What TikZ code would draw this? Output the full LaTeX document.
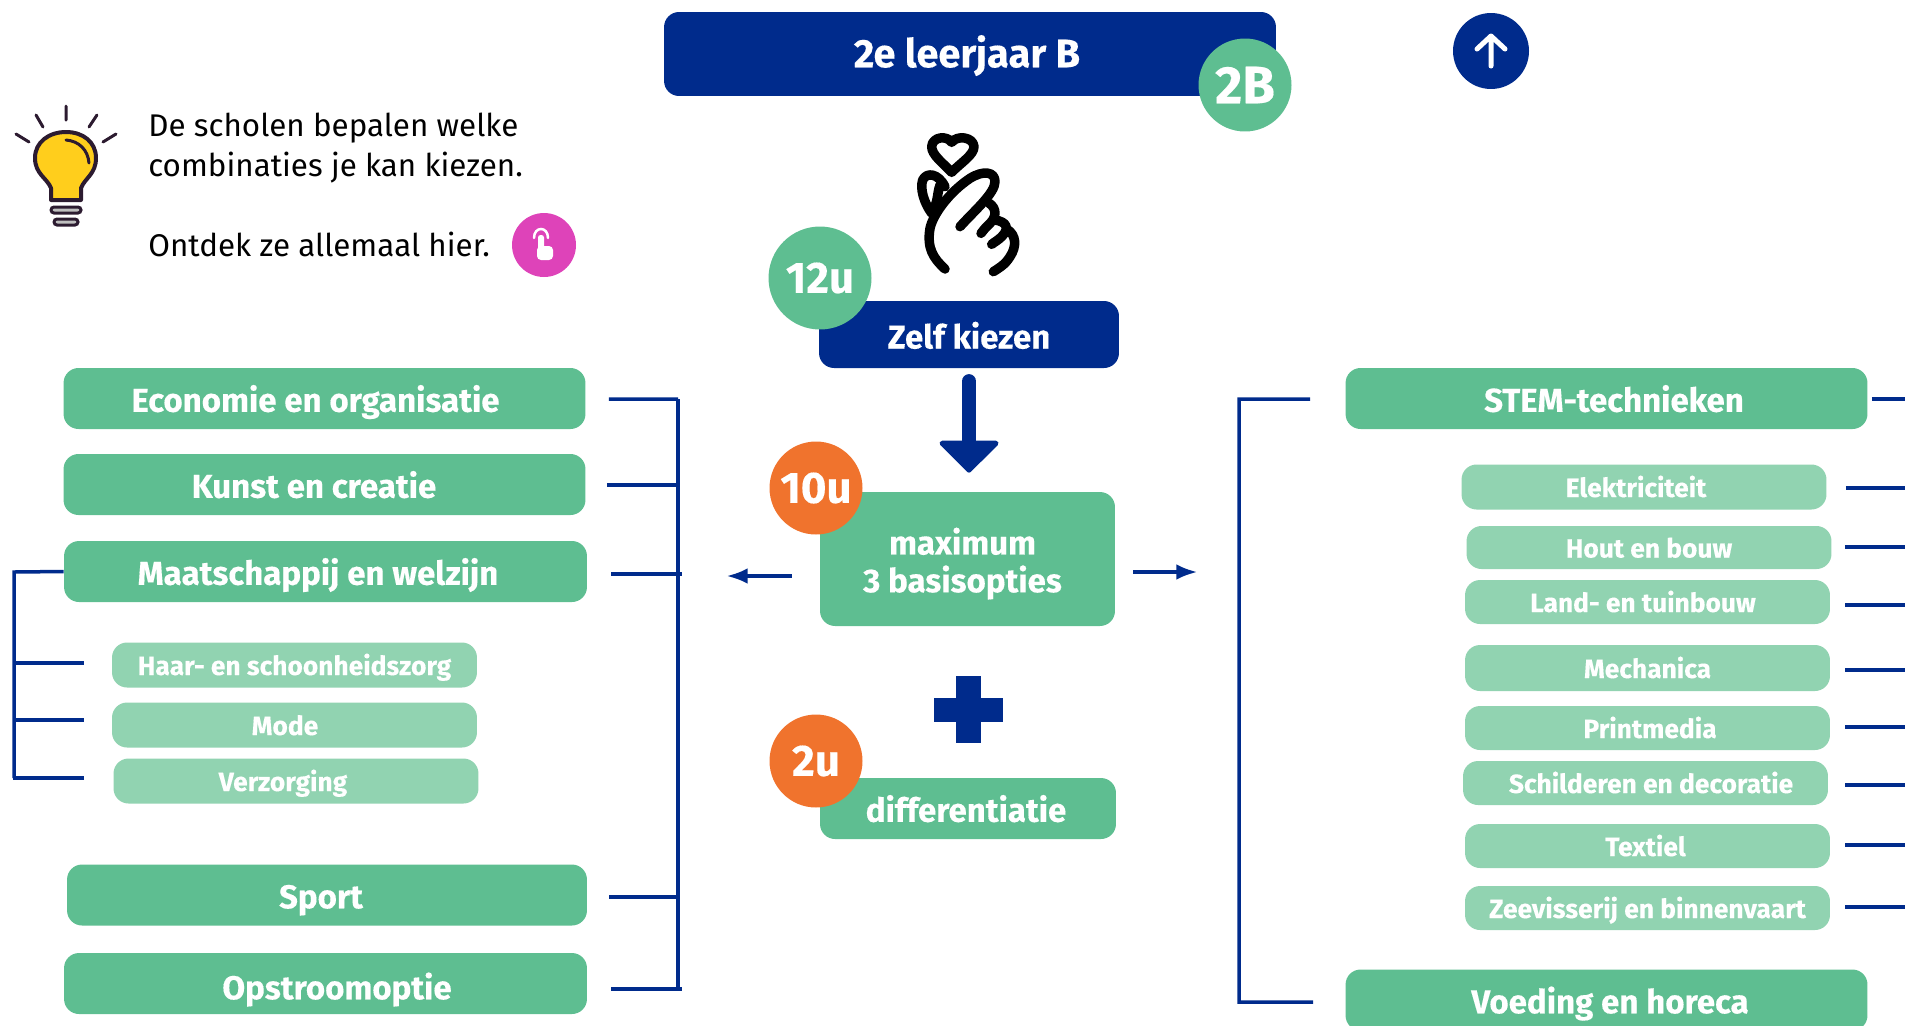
\documentclass[tikz,border=0pt]{standalone}
\usepackage{fontspec}
\setmainfont{Fira Sans}[BoldFeatures={FakeBold=0.3}]
\usetikzlibrary{arrows.meta}

\definecolor{navy}{HTML}{002B8C}
\definecolor{mint}{HTML}{5EBE91}
\definecolor{lightmint}{HTML}{91D3B1}
\definecolor{orangeu}{HTML}{F0732D}
\definecolor{pinkc}{HTML}{DE43B9}
\definecolor{bulbc}{HTML}{FFCE1C}
\definecolor{bulbline}{HTML}{2C1B30}

\newdimen\pxu
\pxu=.02cm
\newcommand{\nudge}[1]{\hspace*{#1\pxu}}

\tikzset{
    mainbox/.style={fill=mint, rounded corners=.3cm, text=white, inner sep=0pt,
        font=\bfseries\fontsize{18.8}{22}\selectfont,
        minimum width=10.44cm, minimum height=1.22cm, text height=.66cm, text depth=.13cm},
    subbox/.style={fill=lightmint, rounded corners=.3cm, text=white, inner sep=0pt,
        font=\bfseries\fontsize{15}{18}\selectfont,
        minimum width=7.3cm, minimum height=.9cm, text height=.5cm, text depth=.1cm},
    navybox/.style={fill=navy, rounded corners=.3cm, text=white, inner sep=0pt,
        font=\bfseries\fontsize{18.8}{22}\selectfont, text height=.66cm, text depth=.13cm},
    hourdot/.style={circle, inner sep=0pt, text=white, minimum size=1.86cm,
        font=\bfseries\fontsize{25}{28}\selectfont},
    para/.style={anchor=west, inner sep=0pt, align=left,
        font=\fontsize{17.85}{23}\selectfont},
    conn/.style={draw=navy, line width=.07cm},
}

\begin{document}
\begin{tikzpicture}[x=.02cm, y=-.02cm, >=Latex]
    \useasboundingbox (0,0) rectangle (1905,1025);
    \clip (0,0) rectangle (1905,1025);

    % top row
    \node[navybox, minimum width=12.24cm, minimum height=1.68cm,
        font=\bfseries\fontsize{22.6}{25}\selectfont] (title) at (970,54) {\nudge{-6}2e leerjaar B};
    \node[hourdot, fill=mint, font=\bfseries\fontsize{30}{32}\selectfont] (grade) at (1245,85) {2B};
    \node[circle, fill=navy, minimum size=1.52cm] (up) at (1491,51) {};
    \draw[white, line width=.1cm, line cap=round, line join=round]
        (1491,66) -- (1491,36) (1477,49) -- (1491,36) -- (1505,49);

    % bulb
    \draw[bulbline, line width=.06cm, line cap=round]
        (66,106) -- (66,120) (36,115) -- (43,127) (97,115) -- (89,127)
        (16,134) -- (29,142) (116,134) -- (103,142);
    \draw[bulbline, fill=bulbc, line width=.08cm, line join=round]
        (51,200) -- (51,188) .. controls (47,178) and (35,174) .. (35,158)
        .. controls (35,142) and (49,132) .. (66,132)
        .. controls (83,132) and (96,142) .. (96,158)
        .. controls (96,174) and (85,178) .. (81,188) -- (81,200) -- cycle;
    \draw[bulbline, line width=.06cm, line cap=round]
        (66,140) .. controls (79,141) and (88,150) .. (89,163);
    \draw[bulbline, fill=lightgray, line width=.06cm, rounded corners=.06cm] (51,207) rectangle (81,213);
    \draw[bulbline, fill=lightgray, line width=.06cm, rounded corners=.06cm] (54,219) rectangle (78,225);

    \node[para] (scholen) at (148,148) {De scholen bepalen welke\\combinaties je kan kiezen.};
    \node[para] (ontdek) at (148,244) {Ontdek ze allemaal hier.};
    \node[circle, fill=pinkc, minimum size=1.28cm] (hier) at (544,245) {};
    \draw[white, line width=.05cm, line cap=round]
        (534,238) .. controls (534,226) and (548,226) .. (548,238);
    \fill[white, rounded corners=.05cm] (538,235) rectangle (544,255);
    \fill[white, rounded corners=.08cm] (537,246) rectangle (553,260);

    % hand with heart
    \begin{scope}[shift={(900,125)}, scale=1/3, line width=.19cm, line cap=round, line join=round]
        \draw (155,142) .. controls (130,115) and (95,90) .. (95,65)
            .. controls (97,35) and (140,30) .. (155,52)
            .. controls (170,30) and (220,35) .. (222,65)
            .. controls (222,90) and (180,115) .. (155,142);
        \draw (135,432) .. controls (100,400) and (80,370) .. (90,310)
            .. controls (100,265) and (150,200) .. (210,160)
            .. controls (250,135) and (285,140) .. (285,170)
            .. controls (285,205) and (220,260) .. (180,305);
        \draw (95,265) .. controls (70,230) and (60,190) .. (68,165)
            .. controls (80,140) and (115,145) .. (135,185);
        \draw (120,180) .. controls (110,210) and (115,230) .. (98,255);
        \draw (268,235) .. controls (290,250) and (290,275) .. (270,295)
            .. controls (255,310) and (250,315) .. (243,325);
        \draw (285,285) .. controls (320,290) and (330,310) .. (305,335)
            .. controls (295,345) and (285,350) .. (275,358);
        \draw (320,312) .. controls (350,330) and (350,365) .. (330,395)
            .. controls (315,420) and (295,430) .. (280,440);
    \end{scope}

    % middle column
    \node[navybox, minimum width=6cm, minimum height=1.34cm, text height=.69cm] (zelf) at (969,334.5) {Zelf kiezen};
    \node[hourdot, fill=mint, minimum size=2.06cm] (twaalf) at (820,278) {12u};
    \node[mainbox, minimum width=5.9cm, minimum height=2.68cm, align=center,
        text height=, text depth=, font=\bfseries\fontsize{18.8}{21.5}\selectfont] (maxi) at (967.5,559)
        {\rule{0pt}{.72cm}\nudge{-10}maximum\\\nudge{-10}3 basisopties};
    \node[hourdot, fill=orangeu] (tien) at (816,488) {10u};
    \node[mainbox, minimum width=5.92cm] (diff) at (968,808.5) {\nudge{-4}differentiatie};
    \node[hourdot, fill=orangeu] (twee) at (816,761) {2u};
    \fill[navy] (956,676) rectangle (981,743);
    \fill[navy] (934,698) rectangle (1003,722);

    \draw[navy, line width=.29cm, line cap=round, shorten <=.26cm, shorten >=.38cm,
        -{Triangle[length=.66cm, width=1.3cm, round, line width=.1cm]}] (zelf.south) -- (zelf.south |- maxi.north);
    \draw[conn, ->] (maxi.west) ++(-28,17) -- ++(-65,0);
    \draw[conn, ->] (maxi.east) ++(18,13) -- ++(64,0);

    % left column
    \node[mainbox] (econ) at (324.5,398.5) {\nudge{-18}Economie en organisatie};
    \node[mainbox] (kunst) at (324.5,484.5) {\nudge{-21}Kunst en creatie};
    \node[mainbox, minimum width=10.46cm] (maat) at (325.5,571.5) {\nudge{-15}Maatschappij en welzijn};
    \node[subbox] (haar) at (294.5,665) {Haar- en schoonheidszorg};
    \node[subbox] (mode) at (294.5,725) {\nudge{-19}Mode};
    \node[subbox] (verz) at (296,781) {\nudge{-26}Verzorging};
    \node[mainbox, minimum width=10.4cm] (sport) at (327,895) {\nudge{-12}Sport};
    \node[mainbox, minimum width=10.46cm, text height=.76cm] (opst) at (325.5,983.5) {\nudge{23}Opstroomoptie};

    \coordinate (lbustop) at (678,399);
    \coordinate (lbusbot) at (678,989);
    \draw[conn] (lbustop) -- (lbusbot);
    \draw[conn] (econ.east) ++(23,0.5) -- (lbustop);
    \draw[conn] (kunst.east) ++(21,0.5) -- ++(72,0);
    \draw[conn] (maat.east) ++(24,2.5) -- ++(71,0);
    \draw[conn] (sport.east) ++(22,2) -- ++(71,0);
    \draw[conn] (opst.east) ++(24,5.5) -- ++(71,0);

    \coordinate (mbustop) at (14,572);
    \coordinate (mbusbot) at (14,778);
    \draw[conn] (maat.west) -- (mbustop) -- (mbusbot);
    \draw[conn] (haar.west) ++(-28,-2) -- ++(-70,0);
    \draw[conn] (mode.west) ++(-28,-5) -- ++(-70,0);
    \draw[conn] (verz.west) ++(-29,-3) -- ++(-71,0);

    % right column
    \node[mainbox] (stem) at (1606.5,398.5) {\nudge{15}STEM-technieken};
    \node[subbox] (elek) at (1644,487) {\nudge{-16}Elektriciteit};
    \node[subbox, minimum height=.86cm] (hout) at (1649,547.5) {Hout en bouw};
    \node[subbox, minimum height=.88cm] (land) at (1647.5,602) {\nudge{-9}Land- en tuinbouw};
    \node[subbox, minimum height=.92cm] (mech) at (1647.5,668) {Mechanica};
    \node[subbox, minimum height=.88cm] (print) at (1647.5,728) {\nudge{5}Printmedia};
    \node[subbox, minimum height=.88cm] (schil) at (1645.5,783) {\nudge{11}Schilderen en decoratie};
    \node[subbox, minimum height=.88cm] (text) at (1647.5,846) {\nudge{-4}Textiel};
    \node[subbox, minimum height=.88cm] (zee) at (1647.5,908) {Zeevisserij en binnenvaart};
    \node[mainbox] (voed) at (1606.5,1000) {\nudge{7}Voeding en horeca};

    \coordinate (rbustop) at (1239,399);
    \coordinate (rbusbot) at (1239,1002);
    \draw[conn] (stem.west) ++(-35,0.5) -- (rbustop) -- (rbusbot) -- ++(74,0);
    \draw[conn] (stem.east) ++(4,0.5) -- ++(33,0);
    \draw[conn] (elek.east) ++(19,1) -- ++(60,0);
    \draw[conn] (hout.east) ++(13,-0.5) -- ++(60,0);
    \draw[conn] (land.east) ++(15,3) -- ++(60,0);
    \draw[conn] (mech.east) ++(15,2) -- ++(60,0);
    \draw[conn] (print.east) ++(15,-1) -- ++(60,0);
    \draw[conn] (schil.east) ++(17,2) -- ++(60,0);
    \draw[conn] (text.east) ++(15,-1) -- ++(60,0);
    \draw[conn] (zee.east) ++(15,-1) -- ++(60,0);
\end{tikzpicture}
\end{document}
